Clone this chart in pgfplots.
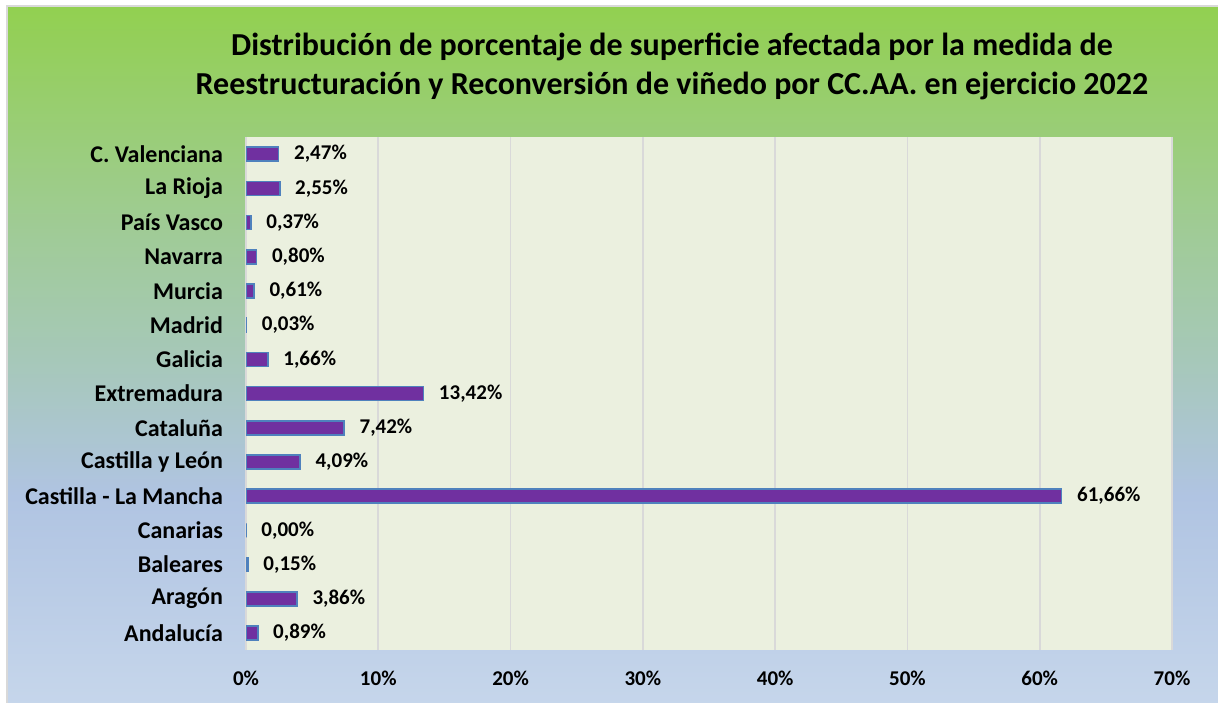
\documentclass[border=0pt]{standalone}
\usepackage{fontspec}
\setmainfont{Carlito}
\usepackage{pgfplots}
\pgfplotsset{compat=1.18}
\definecolor{bggreen}{HTML}{92D050}
\definecolor{bggreen2}{HTML}{A0CB98}
\definecolor{bgmid}{HTML}{A6C8B8}
\definecolor{bgblue}{HTML}{B0C4E2}
\definecolor{bglight}{HTML}{C6D6EB}
\definecolor{plotbg}{HTML}{EBF0DF}
\definecolor{barfill}{HTML}{7030A0}
\definecolor{barline}{HTML}{4F81BD}
\definecolor{gridc}{HTML}{D9D9D9}
% path box spans 25bp (bottom) .. 75bp (top)
\pgfdeclareverticalshading{chartbg}{100bp}{color(0bp)=(bglight); color(25bp)=(bglight); color(40bp)=(bgblue); color(50bp)=(bgmid); color(58.5bp)=(bggreen2); color(75bp)=(bggreen); color(100bp)=(bggreen)}
\begin{document}
\begin{tikzpicture}
\useasboundingbox (0,0) rectangle (609pt,351pt);
\fill[white] (0,0) rectangle (609pt,351pt);
\shade[shading=chartbg] (3.5pt,-2pt) rectangle (611pt,348pt);
\draw[gridc, line width=0.8pt] (3.5pt,-2pt) -- (3.5pt,348pt) -- (611pt,348pt);
\node[align=center, font=\bfseries\fontsize{16}{19.5}\selectfont] at (336pt,317.75pt)
  {Distribución de porcentaje de superficie afectada por la medida de\\
   Reestructuración y Reconversión de viñedo por CC.AA. en ejercicio 2022};
\begin{axis}[
  at={(123pt,26pt)}, anchor=south west,
  scale only axis, width=463pt, height=256.5pt,
  xbar, bar width=7pt,
  xmin=0, xmax=70, xtick={0,10,...,70},
  ymin=-0.5, ymax=14.5,
  ytick={0,...,14},
  yticklabels={Andalucía, Aragón, Baleares, Canarias, Castilla - La Mancha, Castilla y León, Cataluña, Extremadura, Galicia, Madrid, Murcia, Navarra, País Vasco, La Rioja, C. Valenciana},
  axis background/.style={fill=plotbg},
  axis line style={draw=none},
  major tick length=0pt,
  xmajorgrids, grid style={gridc, line width=0.8pt},
  ymajorgrids=false,
  font=\bfseries\fontsize{10.5}{12}\selectfont,
  /pgf/number format/assume math mode=true,
  xticklabel={\pgfmathprintnumber{\tick}\%},
  xticklabel style={yshift=-7pt},
  yticklabel style={xshift=-8pt, font=\bfseries\fontsize{12}{14}\selectfont},
  point meta=x,
  nodes near coords={\pgfmathprintnumber[fixed, fixed zerofill, precision=2, use comma]{\pgfplotspointmeta}\%},
  nodes near coords style={anchor=west, xshift=4pt, font=\bfseries\fontsize{10.5}{12}\selectfont},
]
\addplot[fill=barfill, draw=barline, line width=0.8pt] coordinates {
  (0.89,0) (3.86,1) (0.15,2) (0.00,3) (61.66,4) (4.09,5) (7.42,6)
  (13.42,7) (1.66,8) (0.03,9) (0.61,10) (0.80,11) (0.37,12) (2.55,13) (2.47,14)
};
\end{axis}
\end{tikzpicture}
\end{document}
